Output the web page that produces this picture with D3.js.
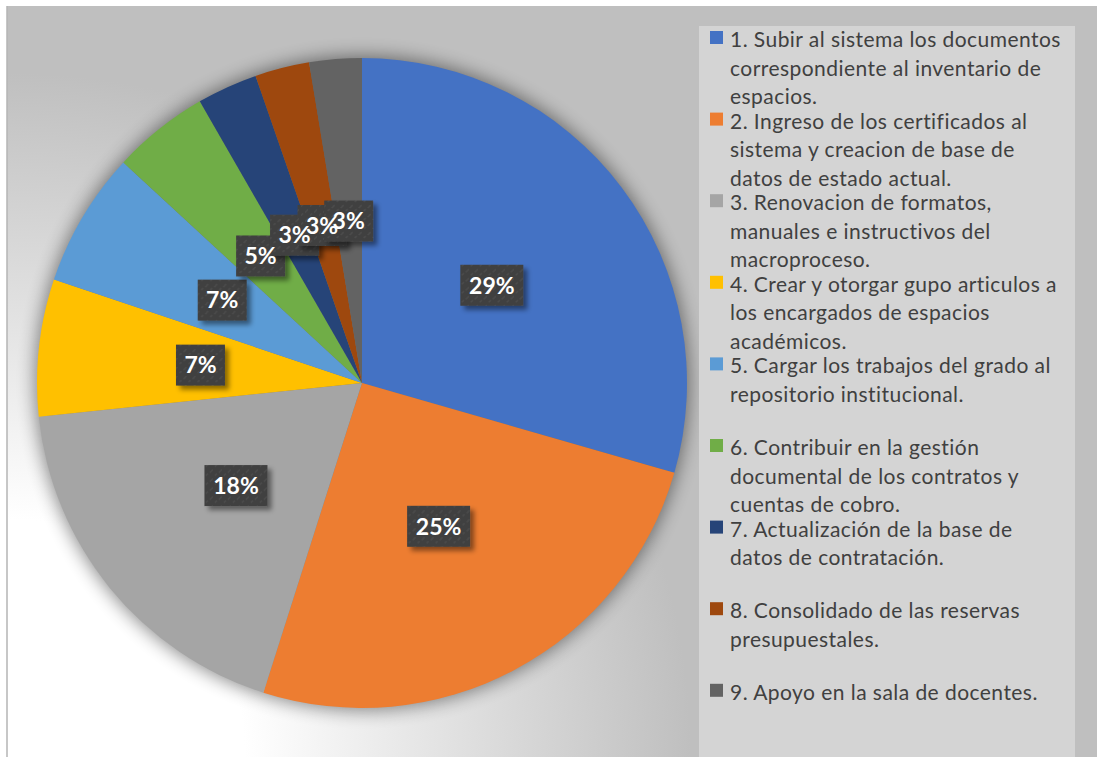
<!DOCTYPE html>
<html>
<head>
<meta charset="utf-8">
<script src="https://cdn.jsdelivr.net/npm/d3@7"></script>
<style>
  body { margin: 0; background: #ffffff; }
  svg { display: block; }
</style>
</head>
<body>
<div id="chart"></div>
<script>
// Chart data (percentages)
let categories = [
  "1. Subir al sistema los documentos correspondiente al inventario de espacios.",
  "2. Ingreso de los certificados al sistema y creacion de base de datos de estado actual.",
  "3. Renovacion de formatos, manuales e instructivos del macroproceso.",
  "4. Crear y otorgar gupo articulos a los encargados de espacios académicos.",
  "5. Cargar los trabajos del grado al repositorio institucional.",
  "6. Contribuir en la gestión documental de los contratos y cuentas de cobro.",
  "7. Actualización de la base de datos de contratación.",
  "8. Consolidado de las reservas presupuestales.",
  "9. Apoyo en la sala de docentes."
];
let values = [29.4, 25.4, 18.4, 6.8, 6.7, 4.8, 3.0, 2.7, 2.6];
let percentLabels = ["29%", "25%", "18%", "7%", "7%", "5%", "3%", "3%", "3%"];

// legend text as it wraps in the original
let legendLines = [
  ["1. Subir al sistema los documentos", "correspondiente al inventario de", "espacios."],
  ["2. Ingreso de los certificados al", "sistema y creacion de base de", "datos de estado actual."],
  ["3. Renovacion de formatos,", "manuales e instructivos del", "macroproceso."],
  ["4. Crear y otorgar gupo articulos a", "los encargados de espacios", "académicos."],
  ["5. Cargar los trabajos del grado al", "repositorio institucional."],
  ["6. Contribuir en la gestión", "documental de los contratos y", "cuentas de cobro."],
  ["7. Actualización de la base de", "datos de contratación."],
  ["8. Consolidado de las reservas", "presupuestales."],
  ["9. Apoyo en la sala de docentes."]
];

let colors = ["#4472C4", "#ED7D31", "#A5A5A5", "#FFC000", "#5B9BD5",
              "#70AD47", "#264478", "#9E480E", "#636363"];

let svgWidth = 1097;
let svgHeight = 757;

let svg = d3.select("#chart")
  .append("svg")
  .attr("width", svgWidth)
  .attr("height", svgHeight);

let defs = svg.append("defs");

// background gradient, white in the lower left corner
let bg = defs.append("radialGradient")
  .attr("id", "bgGrad")
  .attr("gradientUnits", "userSpaceOnUse")
  .attr("cx", 7).attr("cy", 757).attr("r", 720);
bg.append("stop").attr("offset", "0.33").attr("stop-color", "#ffffff");
bg.append("stop").attr("offset", "0.95").attr("stop-color", "#bfbfbf");

// soft halo under the pie
defs.append("filter")
  .attr("id", "pieShadow")
  .attr("x", "-20%").attr("y", "-20%")
  .attr("width", "140%").attr("height", "140%")
  .append("feGaussianBlur")
  .attr("stdDeviation", 9);

// drop shadow for the label boxes
let boxShadow = defs.append("filter")
  .attr("id", "boxShadow")
  .attr("x", "-30%").attr("y", "-30%")
  .attr("width", "170%").attr("height", "170%");
boxShadow.append("feDropShadow")
  .attr("dx", 4).attr("dy", 4)
  .attr("stdDeviation", 2.5)
  .attr("flood-color", "#000")
  .attr("flood-opacity", 0.45);

// speckled texture for the label boxes
let pat = defs.append("pattern")
  .attr("id", "boxTexture")
  .attr("patternUnits", "userSpaceOnUse")
  .attr("width", 9).attr("height", 9);
pat.append("rect").attr("width", 9).attr("height", 9).attr("fill", "#404040");
pat.append("path")
  .attr("d", "M1,5 L4,2 M6,8 L8,6")
  .attr("stroke", "#4d4d4d")
  .attr("stroke-width", 1.2);

// chart area
svg.append("rect")
  .attr("x", 7).attr("y", 6)
  .attr("width", svgWidth - 7).attr("height", svgHeight - 6)
  .attr("fill", "url(#bgGrad)");

svg.append("line")
  .attr("x1", 7).attr("x2", 7)
  .attr("y1", 6).attr("y2", svgHeight)
  .attr("stroke", "#b4b4b4")
  .attr("stroke-width", 1.5);

// pie
let cx = 362, cy = 383, radius = 325;

let pieGroup = svg.append("g")
  .attr("transform", `translate(${cx}, ${cy})`);

pieGroup.append("circle")
  .attr("r", radius + 2)
  .attr("fill", "#000")
  .attr("opacity", 0.45)
  .attr("filter", "url(#pieShadow)");

let pie = d3.pie().sort(null).value(d => d);
let arcs = pie(values);

let arc = d3.arc().innerRadius(0).outerRadius(radius);
let labelArc = d3.arc().innerRadius(radius * 0.5).outerRadius(radius * 0.5);

pieGroup.selectAll("path.slice")
  .data(arcs)
  .enter()
  .append("path")
  .attr("class", "slice")
  .attr("d", arc)
  .attr("fill", (d, i) => colors[i]);

// data labels: all boxes first, then all texts on top
pieGroup.append("g")
  .selectAll("rect")
  .data(arcs)
  .enter()
  .append("rect")
  .attr("transform", d => `translate(${labelArc.centroid(d)})`)
  .attr("x", (d, i) => percentLabels[i].length > 2 ? -31.5 : -24.5)
  .attr("y", -20.5)
  .attr("width", (d, i) => percentLabels[i].length > 2 ? 63 : 49)
  .attr("height", 41)
  .attr("fill", "url(#boxTexture)")
  .attr("filter", "url(#boxShadow)");

pieGroup.append("g")
  .selectAll("text")
  .data(arcs)
  .enter()
  .append("text")
  .attr("transform", d => `translate(${labelArc.centroid(d)})`)
  .attr("text-anchor", "middle")
  .attr("dy", "0.36em")
  .attr("font-family", "Lato, 'Open Sans', sans-serif")
  .attr("font-weight", "bold")
  .attr("font-size", 23)
  .attr("fill", "#ffffff")
  .text((d, i) => percentLabels[i]);

// legend
let legendGroup = svg.append("g");

legendGroup.append("rect")
  .attr("x", 699).attr("y", 26)
  .attr("width", 376).attr("height", svgHeight - 26)
  .attr("fill", "#d4d4d4");

let itemPitch = 81.6;
let linePitch = 28.5;

let items = legendGroup.selectAll("g.item")
  .data(legendLines)
  .enter()
  .append("g")
  .attr("class", "item")
  .attr("transform", (d, i) => `translate(710, ${31 + i * itemPitch})`);

items.append("rect")
  .attr("width", 13).attr("height", 13)
  .attr("fill", (d, i) => colors[i]);

items.each(function(lines) {
  let t = d3.select(this).append("text")
    .attr("font-family", "Lato, 'Open Sans', sans-serif")
    .attr("font-size", 21)
    .attr("letter-spacing", "0.45px")
    .attr("fill", "#404040");
  lines.forEach((ln, j) => {
    t.append("tspan")
      .attr("x", 20)
      .attr("y", 16 + j * linePitch)
      .text(ln);
  });
});
</script>
</body>
</html>
